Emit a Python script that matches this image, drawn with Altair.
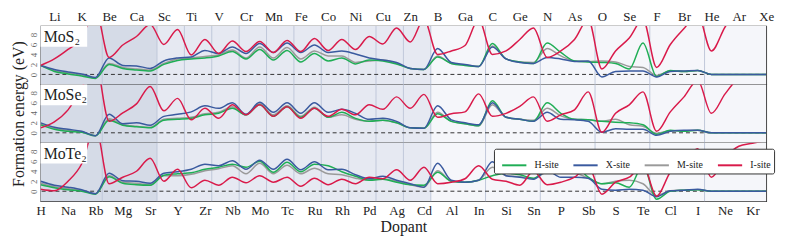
import json
import altair as alt
import pandas as pd

elements = ["H","Li","Na","K","Rb","Be","Mg","Ca","Sr","Sc","Y","Ti","Zr","V","Nb","Cr","Mo","Mn","Tc","Fe",
            "Ru","Co","Rh","Ni","Pd","Cu","Ag","Zn","Cd","B","Al","Ga","In","C","Si","Ge","Sn","N","P","As",
            "Sb","O","S","Se","Te","F","Cl","Br","I","He","Ne","Ar","Kr","Xe"]
sites = ["H-site", "X-site", "M-site", "I-site"]
site_colors = ["#1fae55", "#3a5a9f", "#9a9a9a", "#d91a4a"]
draw_order = ["M-site", "H-site", "X-site", "I-site"]

# Formation energies (eV)
mos2_h = [1.8,0.6,0.1,-0.3,-0.8,2.0,1.2,0.9,0.7,2.0,2.8,3.1,3.3,3.7,4.6,3.1,5.0,2.9,4.8,2.5,4.2,2.7,3.3,2.1,2.9,2.7,2.1,1.2,1.0,3.5,2.2,1.8,1.6,6.2,3.1,2.5,2.2,6.3,4.4,2.7,2.5,2.4,2.2,1.1,6.3,-0.4,0.8,0.6,0.8,0,0,0,0,0]
mos2_x = [1.8,1.0,0.5,0.1,-0.6,3.3,1.8,1.7,1.2,2.7,3.3,3.5,4.8,4.2,5.5,4.2,6.2,4.4,6.3,4.4,5.9,4.4,4.7,4.1,3.3,2.9,2.4,1.2,1.0,5.2,2.4,2.0,1.6,5.5,3.1,2.4,2.2,3.4,3.1,2.6,2.7,-0.5,0.6,0.7,0.7,-0.5,0.6,0.7,0.8,0,0,0,0,0]
mos2_m = [1.8,0.8,0.3,-0.1,-0.7,2.2,1.4,1.1,0.9,2.2,3.1,3.3,3.6,3.9,4.9,3.3,5.5,3.3,5.4,3.1,4.7,3.7,3.7,2.4,2.7,2.9,2.2,1.2,1.0,3.7,2.2,1.9,1.6,5.7,3.1,2.5,2.4,5.2,3.7,2.7,2.6,2.7,2.5,1.6,1.4,-0.2,0.7,0.6,0.8,0,0,0,0,0]
mos2_i = [1.8,3.1,5.0,7.3,13,3.4,5.9,7.6,10.0,6.0,9.0,3.9,7.0,4.2,6.7,4.6,6.6,4.4,6.8,4.6,7.2,4.8,7.0,5.0,7.6,6.1,9.3,6.5,11,4.0,4.7,5.8,11,4.0,4.7,7.0,9.3,3.4,4.7,7.0,11,1.1,4.7,7.3,11,1.4,6.0,9.2,12,4.7,9.5,13,14,15]

mose2_h = [1.6,0.7,0.3,0.1,-0.6,2.5,1.5,1.2,1.0,2.5,2.7,2.9,3.6,3.9,4.9,3.6,5.6,3.3,5.2,3.1,4.9,3.1,4.1,2.9,2.3,2.5,2.0,1.0,0.9,3.8,2.3,1.8,1.4,6.4,3.1,2.7,2.3,6.0,3.9,2.7,2.6,2.3,2.1,2.0,1.6,-0.3,0.5,0.3,0.5,0,0,0,0,0]
mose2_x = [2.0,1.1,0.7,0.3,-0.6,3.7,1.8,2.0,1.5,3.3,3.7,4.2,5.4,4.9,6.0,3.7,6.1,4.1,6.0,3.9,6.0,4.1,4.7,3.9,2.7,2.9,2.3,1.0,0.9,5.4,2.6,2.0,1.6,6.0,3.1,2.7,2.3,4.1,2.7,2.6,2.3,0.1,0.8,0.7,0.7,-0.5,0.3,0.5,0.5,0,0,0,0,0]
mose2_m = [1.8,0.9,0.5,0.2,-0.6,2.8,1.6,1.3,1.1,2.7,2.9,3.1,3.8,4.1,5.2,3.6,5.8,3.6,5.4,3.3,5.1,3.1,3.6,2.7,2.3,2.5,2.0,1.0,0.9,4.1,2.3,1.8,1.4,5.6,3.1,2.7,2.5,4.9,3.4,2.7,2.6,2.3,2.7,1.6,1.3,-0.1,0.4,0.4,0.5,0,0,0,0,0]
mose2_i = [1.0,2.2,4.6,9.0,14,2.3,4.0,5.8,9.3,4.4,6.9,2.6,4.9,2.9,5.6,3.6,5.6,3.3,5.2,2.9,4.9,3.3,4.7,3.6,5.6,4.7,7.2,4.9,7.7,3.1,3.8,4.2,7.8,3.3,3.9,5.3,7.2,2.3,3.6,4.6,8.2,0.1,3.9,5.6,8.2,0.3,4.2,7.2,10.5,3.9,7.8,11,12,13]

mote2_h = [1.3,0.7,0.3,0.0,-0.6,2.9,1.6,1.3,1.2,3.2,3.5,3.7,4.4,4.8,5.4,4.8,6.0,3.8,5.8,3.9,5.4,5.1,3.9,3.0,2.2,2.4,1.8,1.3,1.2,3.8,2.0,1.8,2.2,3.1,3.6,3.3,2.6,4.6,5.0,5.0,2.8,1.5,1.7,0.8,5.2,-1.6,0.0,0.2,0.3,0,0,0,0,0]
mote2_x = [2.0,1.2,0.8,0.3,-0.5,3.6,2.1,2.0,1.6,3.6,3.9,4.4,5.4,5.1,6.1,4.4,6.2,4.4,6.4,4.3,5.9,4.3,4.4,3.3,2.5,3.0,2.2,1.5,0.8,5.6,2.2,1.8,2.2,5.9,3.1,2.8,2.4,4.1,2.8,2.8,2.6,0.4,0.2,0.4,0.2,-1.1,0.1,0.2,0.4,0,0,0,0,0]
mote2_m = [1.6,0.9,0.5,0.1,-0.5,3.1,1.8,1.6,1.3,3.1,3.1,3.4,4.1,4.5,5.1,3.5,5.6,3.5,5.2,3.5,4.6,3.5,3.3,2.6,2.2,2.5,2.0,1.3,0.8,4.1,2.0,1.8,2.2,4.8,3.1,2.9,2.5,3.8,3.6,3.6,2.6,1.5,2.0,2.2,1.5,-0.9,0.1,0.2,0.3,0,0,0,0,0]
mote2_i = [0.4,0.1,2.0,5.5,13,1.5,2.8,4.0,6.6,2.0,4.4,0.7,2.2,1.2,2.8,1.7,3.1,1.8,2.8,1.0,2.6,1.3,2.4,1.5,2.8,2.5,4.3,2.2,4.8,1.5,1.8,2.5,5.1,2.4,2.0,1.2,4.0,1.3,1.8,2.8,5.0,-0.6,1.8,2.8,5.2,-1.0,3.8,5.8,8.5,2.8,6.7,9.0,9.6,10.2]

# Periodic-table block shading and group separators
region_start = [0, 8.5, 28.5]
region_end = [8.5, 28.5, 53]
region_fill = ["#d5dbe7", "#e6e9f2", "#f5f6fa"]
group_lines = [4.5, 8.5, 10.5, 12.5, 14.5, 16.5, 18.5, 20.5, 22.5, 24.5, 26.5, 28.5, 32.5, 36.5, 40.5, 44.5, 48.5]

SERIF = "Liberation Serif"
W, H = 733, 59
xs = alt.Scale(domain=[0, 53], nice=False, zero=False)
ys = alt.Scale(domain=[-2, 9.7], nice=False, zero=False)
names_js = json.dumps(elements)

bg_df = pd.DataFrame({"x": region_start, "x2": region_end, "fill": region_fill})
vl_df = pd.DataFrame({"x": group_lines})
zero_df = pd.DataFrame({"y": [0]})


def x_axis(kind):
    if kind == "top":
        return alt.Axis(orient="top", values=list(range(1, 54, 2)), labelExpr=f"{names_js}[datum.value]",
                        title=None, ticks=False, grid=False, domain=False, labelFont=SERIF,
                        labelFontSize=13, labelColor="#222", labelPadding=3, labelFlush=False, labelOverlap=False)
    if kind == "bottom":
        return alt.Axis(orient="bottom", values=list(range(0, 54, 2)), labelExpr=f"{names_js}[datum.value]",
                        title="Dopant", ticks=False, grid=False, domain=False, labelFont=SERIF,
                        labelFontSize=13, labelColor="#222", labelPadding=3, labelFlush=False, labelOverlap=False,
                        titleFont=SERIF, titleFontSize=16, titleFontWeight="normal", titleColor="#222",
                        titlePadding=2)
    return None


def y_axis(title):
    kw = dict(values=[0, 2, 4, 6, 8], labelAngle=270, labelFontSize=9, labelColor="#666", labelFont=SERIF,
              ticks=False, grid=False, domain=False, labelPadding=2, labelAlign="center", labelBaseline="bottom")
    if title:
        return alt.Axis(title=title, titleFont=SERIF, titleFontSize=16, titleFontWeight="normal",
                        titleColor="#222", titlePadding=3, **kw)
    return alt.Axis(title=None, **kw)


def panel(label, h, x, m, i, kind, ytitle, legend):
    xa = x_axis(kind)
    ya = y_axis(ytitle)
    rows = []
    series = {"H-site": h, "X-site": x, "M-site": m, "I-site": i}
    for s in draw_order:
        for k, v in enumerate(series[s]):
            rows.append({"x": k, "y": v, "site": s, "order": draw_order.index(s)})
    df = pd.DataFrame(rows)

    bg = alt.Chart(bg_df).mark_rect().encode(
        x=alt.X("x:Q", scale=xs, axis=xa), x2="x2:Q",
        y=alt.value(0), y2=alt.value(H),
        fill=alt.Fill("fill:N", scale=None))
    vl = alt.Chart(vl_df).mark_rule(color="#bfc7da", strokeWidth=1).encode(
        x=alt.X("x:Q", scale=xs, axis=xa))
    zero = alt.Chart(zero_df).mark_rule(color="#333", strokeDash=[4, 3], strokeWidth=1).encode(
        y=alt.Y("y:Q", scale=ys, axis=ya))
    if legend:
        leg = alt.Legend(orient="none", legendX=458, legendY=6, direction="horizontal", columns=4, title=None,
                         symbolType="stroke", symbolSize=600, symbolStrokeWidth=2, labelFont=SERIF,
                         labelFontSize=10, labelColor="#222", fillColor="white", strokeColor="#333",
                         padding=3, columnPadding=9, symbolOffset=4, labelOffset=7, cornerRadius=2)
    else:
        leg = None
    lines = alt.Chart(df).mark_line(clip=True, strokeWidth=1.5, interpolate="monotone").encode(
        x=alt.X("x:Q", scale=xs, axis=xa),
        y=alt.Y("y:Q", scale=ys, axis=ya),
        color=alt.Color("site:N", scale=alt.Scale(domain=sites, range=site_colors), legend=leg),
        order=alt.Order("order:Q"),
        detail="site:N")
    box = alt.Chart(zero_df).mark_rect(fill="white").encode(
        x=alt.value(0), x2=alt.value(47), y=alt.value(0), y2=alt.value(21))
    txt = alt.Chart(zero_df).mark_text(text=label, font=SERIF, fontSize=16, align="left",
                                       baseline="alphabetic", color="#222").encode(
        x=alt.value(3), y=alt.value(16))
    return alt.layer(bg, vl, zero, lines, box, txt).properties(width=W, height=H)


p1 = panel("MoS₂", mos2_h, mos2_x, mos2_m, mos2_i, "top", None, False)
p2 = panel("MoSe₂", mose2_h, mose2_x, mose2_m, mose2_i, None, "Formation energy (eV)", False)
p3 = panel("MoTe₂", mote2_h, mote2_x, mote2_m, mote2_i, "bottom", None, True)

chart = alt.vconcat(p1, p2, p3, spacing=0, bounds="flush").resolve_scale(
    color="independent").resolve_legend(color="independent").properties(
    padding={"left": 2, "top": 0, "right": 5, "bottom": 0}
).configure_view(stroke="#333", strokeWidth=1.2)

chart.save("out.html", embed_options={"renderer": "svg", "actions": False})
